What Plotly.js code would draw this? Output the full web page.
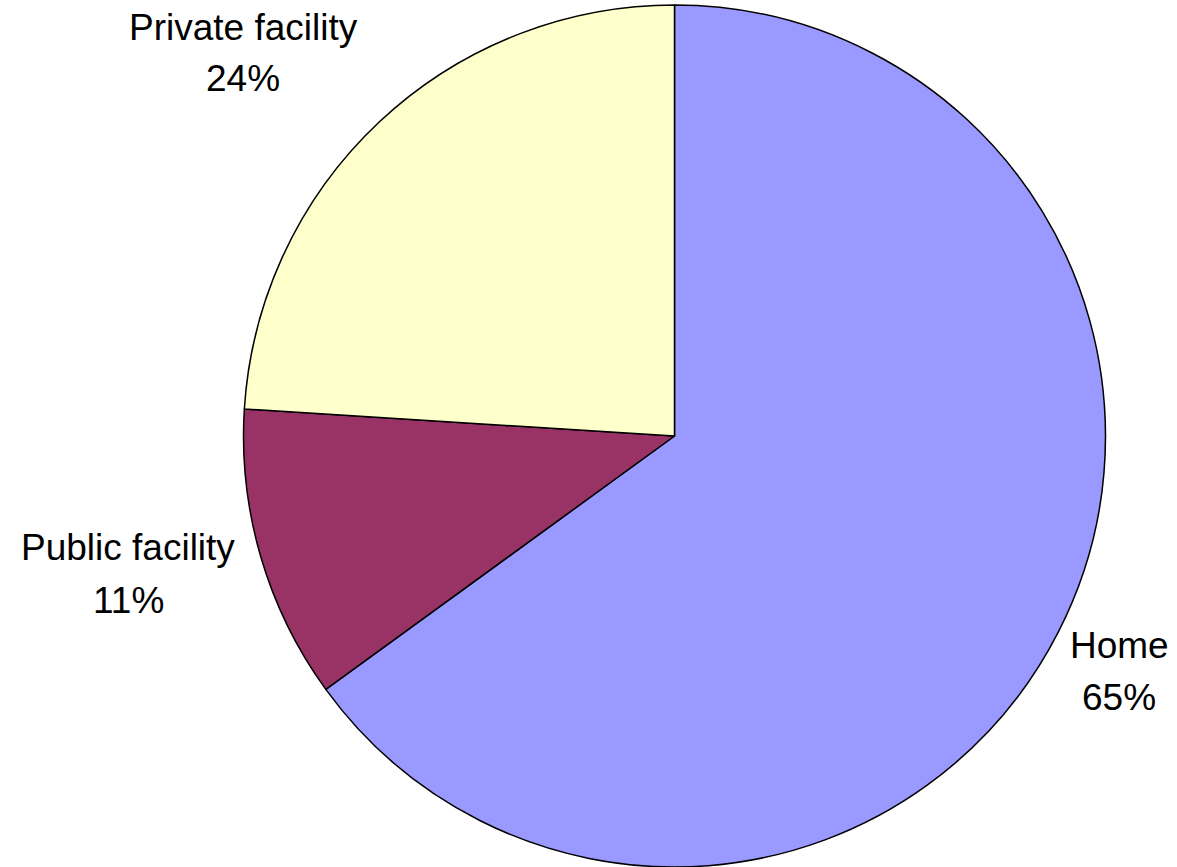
<!DOCTYPE html>
<html>
<head>
<meta charset="utf-8">
<script src="https://cdn.plot.ly/plotly-3.0.1.min.js"></script>
<style>html,body{margin:0;padding:0;background:#fff;}#chart{width:1177px;height:867px;}</style>
</head>
<body>
<div id="chart"></div>
<script>
const categories = ["Home", "Public facility", "Private facility"];
const values = [65, 11, 24];
const colors = ["#9999FF", "#993366", "#FFFFCC"];

const W = 1177, H = 867;
// label anchor points (pixels): [name line center, percent line center]
const labelPos = {
  "Home": {x: 1119, y1: 645, y2: 697},
  "Public facility": {x: 128, y1: 547, y2: 600},
  "Private facility": {x: 243, y1: 27, y2: 79}
};

const total = values.reduce((a, b) => a + b, 0);
const annotations = [];
const fnt = {family: "Liberation Sans, Arial, sans-serif", size: 37, color: "#000"};
categories.forEach((c, i) => {
  const p = labelPos[c];
  const pct = Math.round(values[i] / total * 100) + "%";
  annotations.push({x: p.x / W, y: 1 - p.y1 / H, xref: "paper", yref: "paper", text: c, showarrow: false, xanchor: "center", yanchor: "middle", font: fnt});
  annotations.push({x: p.x / W, y: 1 - p.y2 / H, xref: "paper", yref: "paper", text: pct, showarrow: false, xanchor: "center", yanchor: "middle", font: fnt});
});

const cx = 674.5, r = 431;
const data = [{
  type: "pie",
  labels: categories,
  values: values,
  sort: false,
  direction: "clockwise",
  rotation: 0,
  textinfo: "none",
  hoverinfo: "label+percent",
  marker: {colors: colors, line: {color: "#000", width: 1.5}},
  domain: {x: [(cx - r) / W, (cx + r) / W], y: [0, 1 - 5 / H]}
}];

const layout = {
  width: W, height: H,
  margin: {l: 0, r: 0, t: 0, b: 0},
  paper_bgcolor: "#fff",
  showlegend: false,
  annotations: annotations
};

Plotly.newPlot("chart", data, layout, {displayModeBar: false, staticPlot: true});
</script>
</body>
</html>
